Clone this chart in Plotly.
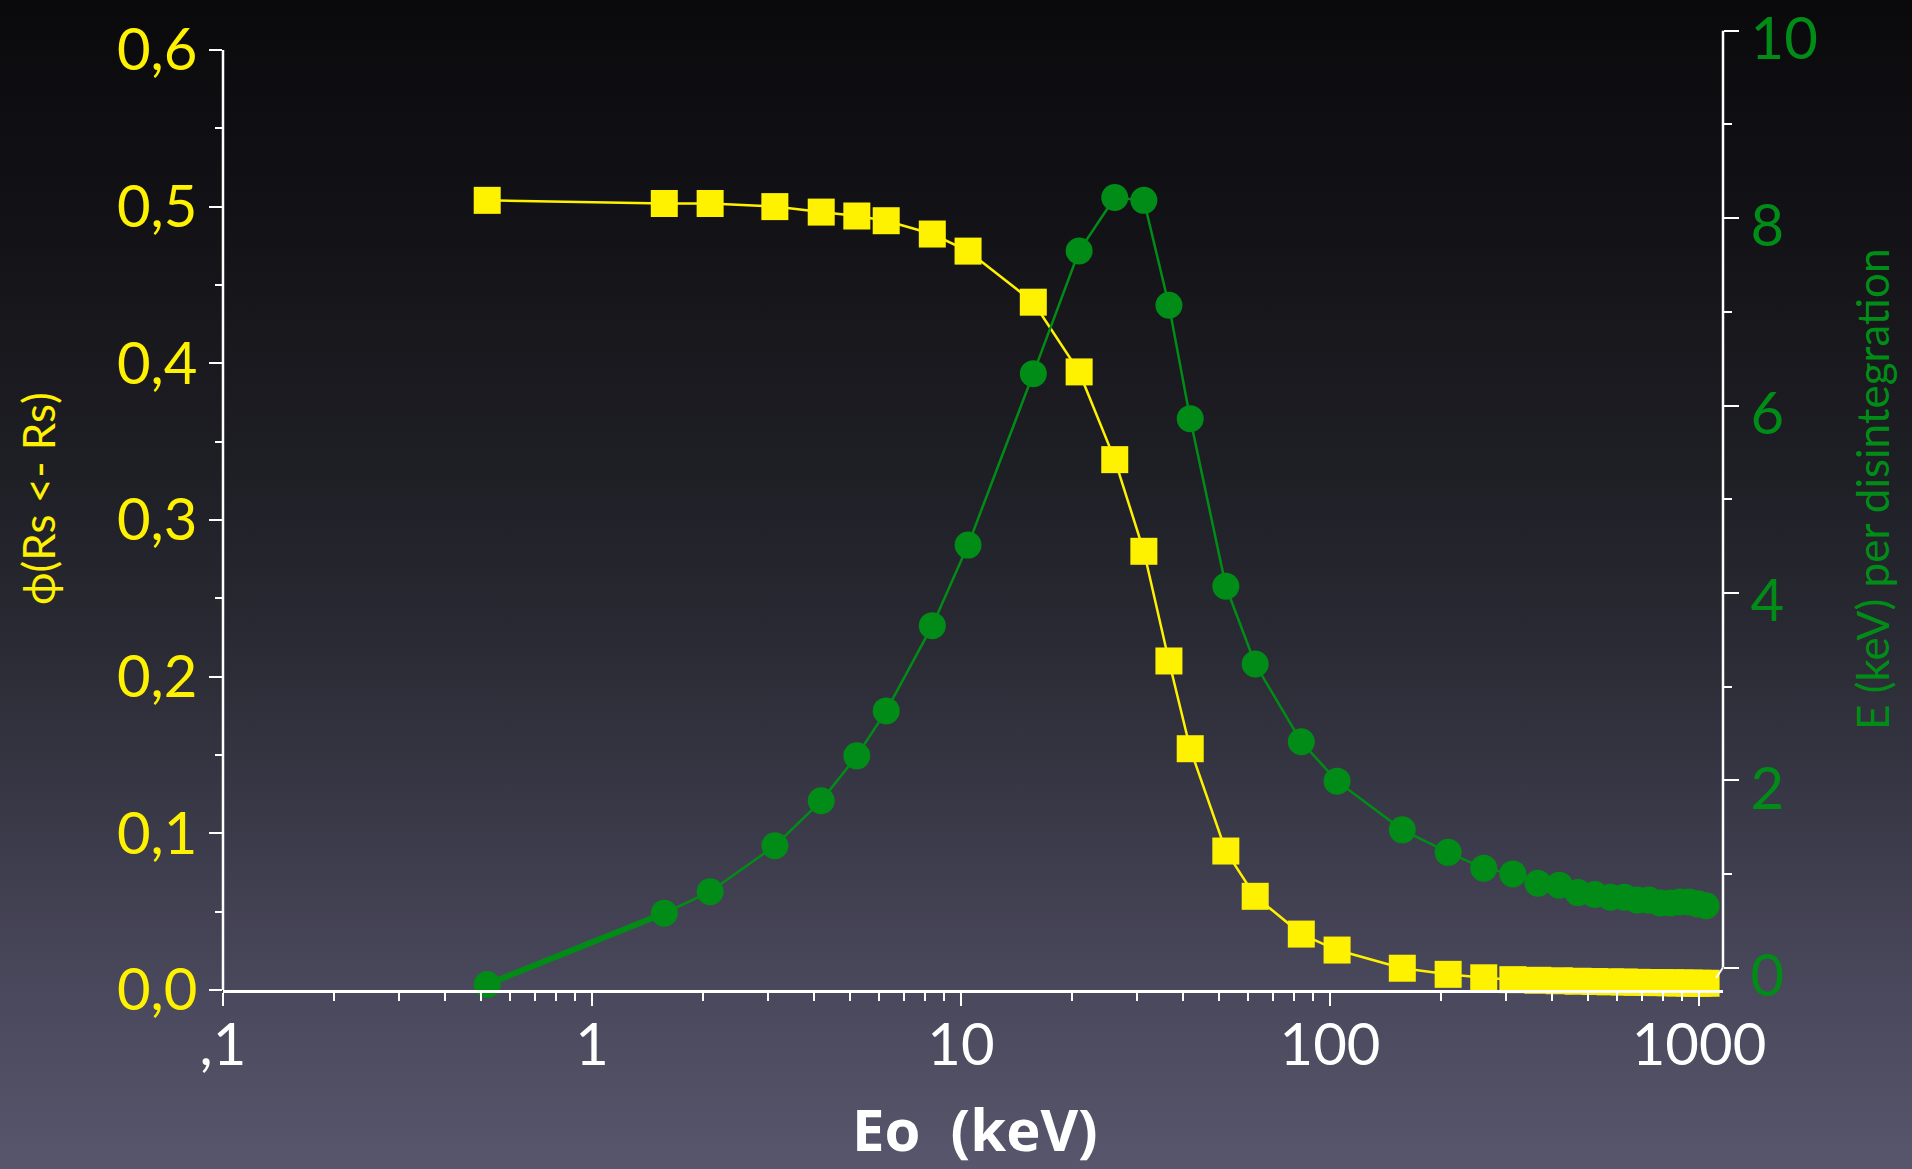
import base64
import plotly.graph_objects as go

# ---------------- data ----------------
energy_kev = [0.52, 1.57, 2.09, 3.13, 4.18, 5.22, 6.27, 8.36, 10.45, 15.7, 20.9, 26.1,
              31.3, 36.6, 41.8, 52.2, 62.7, 83.6, 104.5, 157, 209, 261, 313, 366, 418,
              470, 522, 575, 627, 679, 731, 784, 836, 888, 940, 993, 1045]
phi_self = [0.504, 0.502, 0.502, 0.500, 0.4965, 0.494, 0.491, 0.4825, 0.4716, 0.439,
            0.3945, 0.3385, 0.280, 0.210, 0.154, 0.0887, 0.0598, 0.0357, 0.0255,
            0.0139, 0.0100, 0.0078, 0.0066, 0.0062, 0.0059, 0.0056, 0.0054, 0.0052,
            0.0051, 0.0049, 0.0048, 0.0047, 0.0046, 0.0045, 0.0044, 0.0043, 0.0043]
energy_per_dis = [-0.18, 0.58, 0.81, 1.30, 1.78, 2.26, 2.74, 3.65, 4.51, 6.34, 7.65,
                  8.22, 8.19, 7.07, 5.86, 4.07, 3.24, 2.41, 1.99, 1.47, 1.23, 1.06,
                  1.00, 0.90, 0.88, 0.80, 0.78, 0.75, 0.75, 0.72, 0.72, 0.69, 0.69,
                  0.70, 0.70, 0.68, 0.66]

x_tickvals = [0.1, 1, 10, 100, 1000]
x_ticktext = [",1", "1", "10", "100", "1000"]
x_title = "Eo\u00a0 (keV)"
y_title = "\u03d5(Rs &lt;- Rs)"
y2_title = "E (keV) per disintegration"

# ---------------- style ----------------
W, H = 1912, 1169
L, R, T, B = 223, 1723, 28, 990
YELLOW = "#FFF200"
GREEN = "#008C16"
FONT = "Lato"

svg = f'''<svg xmlns="http://www.w3.org/2000/svg" width="{W}" height="{H}" preserveAspectRatio="none">
<defs><linearGradient id="g" x1="0" y1="0" x2="0" y2="1">
<stop offset="0" stop-color="#0a0a0d"/>
<stop offset="0.2" stop-color="#131317"/>
<stop offset="0.4" stop-color="#1e1e25"/>
<stop offset="0.55" stop-color="#2a2a34"/>
<stop offset="0.7" stop-color="#3a3948"/>
<stop offset="0.85" stop-color="#4a485c"/>
<stop offset="1" stop-color="#58566c"/>
</linearGradient></defs>
<rect x="0" y="0" width="{W}" height="{H}" fill="url(#g)"/></svg>'''
bg_src = "data:image/svg+xml;base64," + base64.b64encode(svg.encode()).decode()

pw, ph = R - L, B - T

def px_x(x):
    return (x - L) / pw

def px_y(y):
    return (B - y) / ph

fig = go.Figure()
fig.add_trace(go.Scatter(
    x=energy_kev, y=phi_self, mode="lines+markers", yaxis="y",
    line=dict(color=YELLOW, width=2.5),
    marker=dict(symbol="square", size=27, color=YELLOW),
    cliponaxis=False, showlegend=False))
fig.add_trace(go.Scatter(
    x=energy_kev[:2], y=energy_per_dis[:2], mode="lines", yaxis="y2",
    line=dict(color=GREEN, width=6), showlegend=False, hoverinfo="skip"))
fig.add_trace(go.Scatter(
    x=energy_kev, y=energy_per_dis, mode="lines+markers", yaxis="y2",
    line=dict(color=GREEN, width=2.5),
    marker=dict(symbol="circle", size=27, color=GREEN),
    cliponaxis=False, showlegend=False))

minor_x = [m * 10 ** e for e in range(-1, 3) for m in range(2, 10)]

tickfont = dict(family=FONT, size=58)
fig.update_layout(
    width=W, height=H, autosize=False,
    margin=dict(l=L, r=W - R, t=T, b=H - B, pad=0, autoexpand=False),
    paper_bgcolor="#2a2a34", plot_bgcolor="rgba(0,0,0,0)",
    separators=",.",
    showlegend=False,
    xaxis=dict(type="log", range=[-1, 3.065], showgrid=False, zeroline=False,
               automargin=False,
               showline=True, linecolor="white", linewidth=2.5,
               ticks="outside", ticklen=13, tickwidth=2, tickcolor="white",
               tickmode="array", tickvals=x_tickvals, ticktext=x_ticktext,
               ticklabelstandoff=-10,
               tickfont=dict(tickfont, color="white"),
               minor=dict(tickmode="array", tickvals=minor_x, ticks="outside",
                          ticklen=8, tickwidth=2, tickcolor="white")),
    yaxis=dict(range=[0, 0.614], showgrid=False, zeroline=False, showline=False,
               automargin=False,
               tickmode="linear", tick0=0, dtick=0.1, tickformat=".1f",
               ticks="outside", ticklen=13, tickwidth=2, tickcolor="white",
               ticklabeloverflow="allow",
               tickfont=dict(tickfont, color=YELLOW),
               minor=dict(tick0=0, dtick=0.05, ticks="outside", ticklen=7,
                          tickwidth=2, tickcolor="white")),
    yaxis2=dict(overlaying="y", side="right", anchor="x",
                automargin=False,
                range=[-0.2395, 10.03], showgrid=False, zeroline=False, showline=False,
                tickmode="linear", tick0=0, dtick=2,
                ticks="outside", ticklen=15, tickwidth=2, tickcolor="white",
                ticklabeloverflow="allow", ticklabelshift=8,
                tickfont=dict(tickfont, color=GREEN),
                minor=dict(tick0=0, dtick=1, ticks="outside", ticklen=8,
                           tickwidth=2, tickcolor="white")),
    images=[dict(source=bg_src, xref="paper", yref="paper",
                 x=px_x(0), y=px_y(0), sizex=W / pw, sizey=H / ph,
                 xanchor="left", yanchor="top", sizing="stretch", layer="below")],
    shapes=[
        dict(type="line", xref="paper", yref="y", x0=0, x1=0, y0=0, y1=0.6,
             line=dict(color="white", width=2.5)),
        dict(type="line", xref="paper", yref="y2", x0=1, x1=1, y0=0, y1=10,
             line=dict(color="white", width=2.5)),
        dict(type="line", xref="paper", yref="paper", x0=1, x1=px_x(1716),
             y0=px_y(967.5), y1=px_y(978), line=dict(color="white", width=2)),
    ],
    annotations=[
        dict(text=y_title, xref="paper", yref="paper", x=px_x(38), y=px_y(499),
             textangle=-90, showarrow=False, xanchor="center", yanchor="middle",
             font=dict(family=FONT, size=44, color=YELLOW)),
        dict(text=y2_title, xref="paper", yref="paper", x=px_x(1872), y=px_y(490),
             textangle=-90, showarrow=False, xanchor="center", yanchor="middle",
             font=dict(family=FONT, size=44, color=GREEN)),
        dict(text=x_title, xref="paper", yref="paper", x=px_x(975), y=px_y(1170),
             showarrow=False, xanchor="center", yanchor="bottom",
             font=dict(family="Open Sans", size=58, color="white", weight="bold")),
    ],
)

fig.write_html("out.html")
